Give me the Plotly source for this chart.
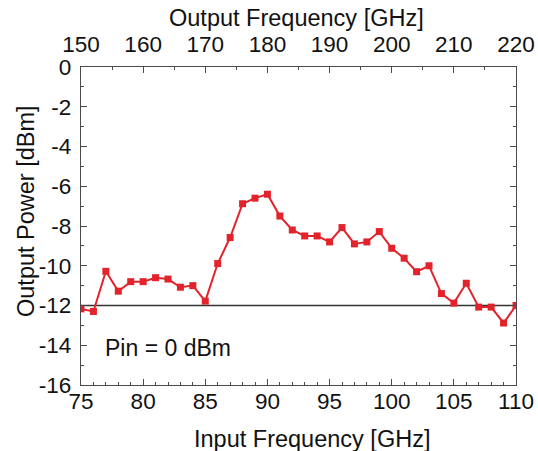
import plotly.graph_objects as go

input_freq = list(range(75, 111))
output_power = [-12.17, -12.3, -10.28, -11.28, -10.8, -10.8, -10.6, -10.67, -11.08, -11.0,
                -11.78, -9.89, -8.58, -6.88, -6.6, -6.4, -7.5, -8.2, -8.5, -8.5,
                -8.8, -8.08, -8.9, -8.8, -8.28, -9.12, -9.62, -10.3, -10.0, -11.4,
                -11.88, -10.88, -12.08, -12.08, -12.88, -12.0]
ref_level = -12
x_range = [75, 110]
x2_range = [150, 220]
y_range = [-16, 0]
x_ticks = list(range(75, 111, 5))
x2_ticks = list(range(150, 221, 10))
y_ticks = list(range(-16, 1, 2))
y_ticklabels = [str(v) for v in y_ticks]
x_title = "Input Frequency [GHz]"
x2_title = "Output Frequency [GHz]"
y_title = "Output Power [dBm]"
annotation_text = "Pin = 0 dBm"

RED = "#e3232c"
FONT = "Liberation Sans, Arial, sans-serif"
AX = "#4a4a4a"
TXT = "#111111"

fig = go.Figure()
fig.add_trace(go.Scatter(x=x_range, y=[ref_level, ref_level], mode="lines",
                         line=dict(color="#333333", width=1.3), showlegend=False, hoverinfo="skip"))
fig.add_trace(go.Scatter(x=input_freq, y=output_power, mode="lines+markers",
                         line=dict(color=RED, width=2),
                         marker=dict(symbol="square", size=7, color=RED),
                         showlegend=False))
fig.add_trace(go.Scatter(x=x2_range, y=[None, None], xaxis="x2", mode="markers",
                         showlegend=False, hoverinfo="skip"))

axis_common = dict(showline=True, linecolor=AX, linewidth=1.3, ticks="inside",
                   tickcolor=AX, showgrid=False, zeroline=False, automargin=False,
                   tickfont=dict(size=22.5, color=TXT, family=FONT))

fig.update_layout(
    width=538, height=451,
    margin=dict(l=81, r=22, t=67, b=66),
    plot_bgcolor="white", paper_bgcolor="white",
    font=dict(family=FONT, color=TXT),
    xaxis=dict(range=x_range, tickvals=x_ticks, ticklen=6, ticklabelstandoff=-4,
               minor=dict(dtick=1, ticklen=3, ticks="inside", tickcolor=AX),
               **axis_common),
    xaxis2=dict(range=x2_range, overlaying="x", side="top", anchor="y",
                tickvals=x2_ticks, ticklen=6, ticklabelstandoff=5,
                minor=dict(dtick=5, ticklen=3, ticks="inside", tickcolor=AX),
                **axis_common),
    yaxis=dict(range=y_range, tickvals=y_ticks, ticktext=y_ticklabels, ticklen=6, mirror="ticks",
               ticklabelstandoff=4,
               minor=dict(dtick=1, ticklen=3, ticks="inside", tickcolor=AX),
               **axis_common),
    annotations=[
        dict(x=0.05, y=0.115, xref="paper", yref="paper", text=annotation_text,
             showarrow=False, xanchor="left", yanchor="middle",
             font=dict(size=23, color=TXT)),
        dict(x=312, y=451 - 439, xref="paper", yref="paper", text=x_title,
             showarrow=False, xanchor="center", yanchor="middle",
             font=dict(size=23.5, color=TXT)),
        dict(x=296, y=451 - 18, xref="paper", yref="paper", text=x2_title,
             showarrow=False, xanchor="center", yanchor="middle",
             font=dict(size=23.5, color=TXT)),
        dict(x=26, y=451 - 211, xref="paper", yref="paper", text=y_title, textangle=-90,
             showarrow=False, xanchor="center", yanchor="middle",
             font=dict(size=23.5, color=TXT)),
    ],
)

# convert pixel positions of title annotations into paper coordinates
L, R, T, B = 81, 22, 67, 66
pw, ph = 538 - L - R, 451 - T - B
for a in fig.layout.annotations[1:]:
    a.x = (a.x - L) / pw
    a.y = (a.y - B) / ph

fig.write_html("out.html")
